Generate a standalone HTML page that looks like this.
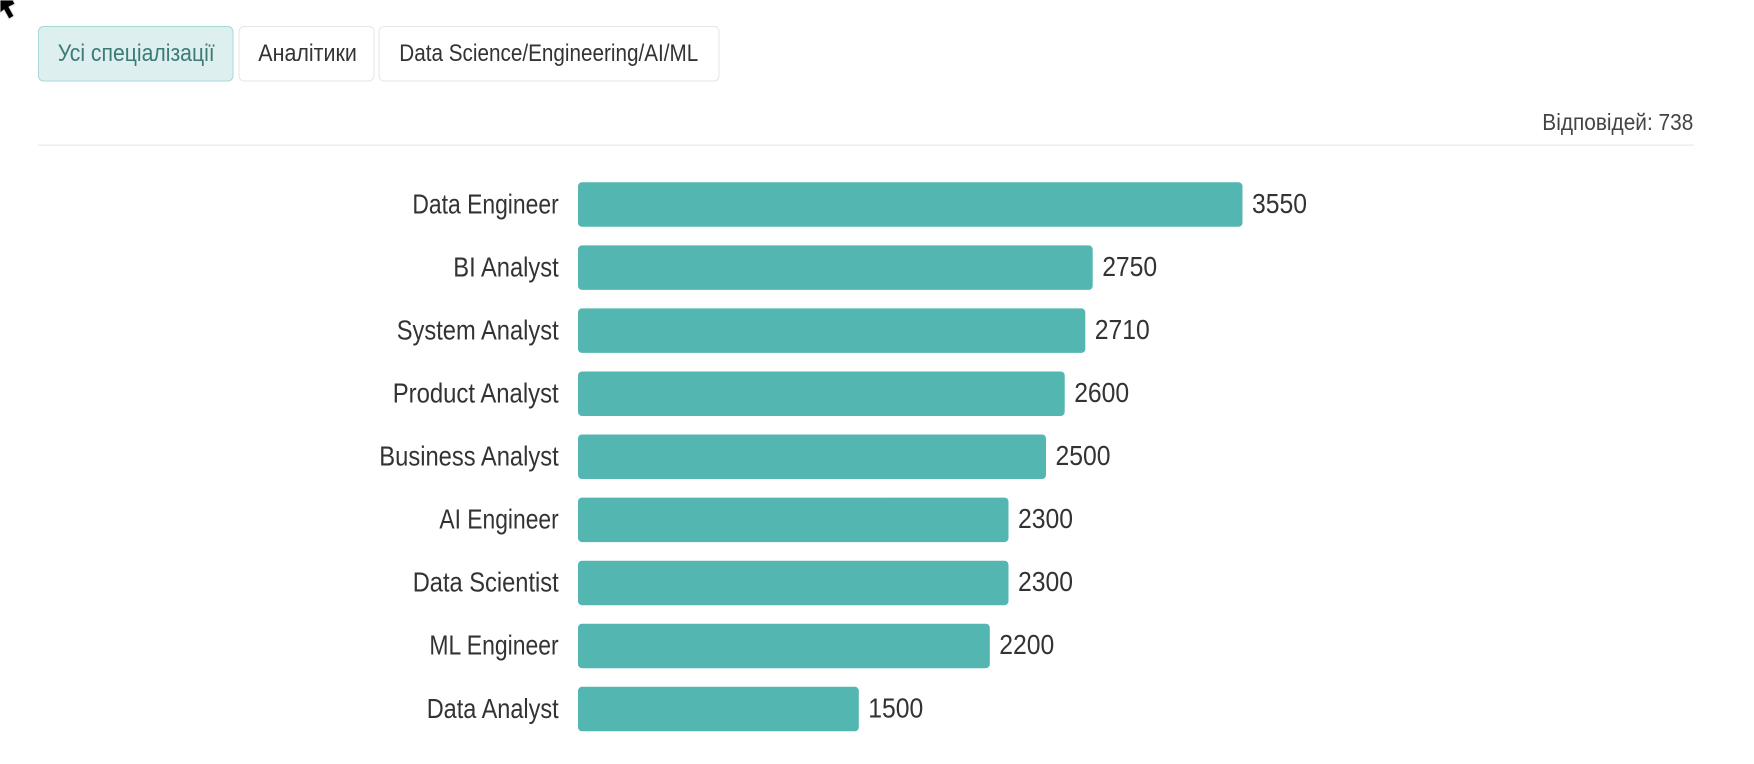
<!DOCTYPE html>
<html>
<head>
<meta charset="utf-8">
<style>
  html,body{margin:0;padding:0;background:#fff;}
  body{width:1754px;height:764px;overflow:hidden;}
  svg{display:block;}
  text{font-family:"Liberation Sans Narrow","Liberation Sans",sans-serif;}
</style>
</head>
<body>
<svg width="1754" height="764" viewBox="0 0 1754 764" xmlns="http://www.w3.org/2000/svg">
  <!-- cursor -->
  <path d="M0,0 L13,0 L15,4 L9,7 L14,16 L9,19 L4,10 L0,13 Z" fill="#000" stroke="#ddd" stroke-width="1"/>

  <!-- tabs -->
  <rect x="38.5" y="26.5" width="194.5" height="54.5" rx="5" fill="#ddefee" stroke="#a9d9d5" stroke-width="1"/>
  <text x="57.7" y="61" font-size="24" fill="#3c7b76" textLength="157" lengthAdjust="spacingAndGlyphs">Усі спеціалізації</text>

  <rect x="239" y="26.5" width="135" height="54.5" rx="5" fill="#fff" stroke="#e6e6e6" stroke-width="1"/>
  <text x="258.3" y="61" font-size="24" fill="#333" textLength="98.5" lengthAdjust="spacingAndGlyphs">Аналітики</text>

  <rect x="379" y="26.5" width="340" height="54.5" rx="5" fill="#fff" stroke="#e6e6e6" stroke-width="1"/>
  <text x="399.3" y="61" font-size="24" fill="#333" textLength="299" lengthAdjust="spacingAndGlyphs">Data Science/Engineering/AI/ML</text>

  <!-- responses -->
  <text x="1542.3" y="130" font-size="23" fill="#444" textLength="151" lengthAdjust="spacingAndGlyphs">Відповідей: 738</text>
  <rect x="38" y="144.5" width="1656" height="1.2" fill="#e8e8e8"/>

  <!-- bars -->
  <g fill="#54b6b1">
    <rect x="578" y="182.3" width="664.5" height="44.5" rx="4"/>
    <rect x="578" y="245.4" width="514.7" height="44.5" rx="4"/>
    <rect x="578" y="308.4" width="507.3" height="44.5" rx="4"/>
    <rect x="578" y="371.5" width="486.7" height="44.5" rx="4"/>
    <rect x="578" y="434.5" width="468.0" height="44.5" rx="4"/>
    <rect x="578" y="497.6" width="430.5" height="44.5" rx="4"/>
    <rect x="578" y="560.7" width="430.5" height="44.5" rx="4"/>
    <rect x="578" y="623.7" width="411.8" height="44.5" rx="4"/>
    <rect x="578" y="686.8" width="280.8" height="44.5" rx="4"/>
  </g>

  <!-- category labels -->
  <g font-size="28" fill="#333">
    <text x="412.4" y="213.3" textLength="146.3" lengthAdjust="spacingAndGlyphs">Data Engineer</text>
    <text x="453.3" y="276.4" textLength="105.4" lengthAdjust="spacingAndGlyphs">BI Analyst</text>
    <text x="396.7" y="339.4" textLength="162" lengthAdjust="spacingAndGlyphs">System Analyst</text>
    <text x="392.7" y="402.5" textLength="166" lengthAdjust="spacingAndGlyphs">Product Analyst</text>
    <text x="379.3" y="465.5" textLength="179.4" lengthAdjust="spacingAndGlyphs">Business Analyst</text>
    <text x="439.4" y="528.6" textLength="119.3" lengthAdjust="spacingAndGlyphs">AI Engineer</text>
    <text x="412.7" y="591.7" textLength="146" lengthAdjust="spacingAndGlyphs">Data Scientist</text>
    <text x="429.4" y="654.7" textLength="129.3" lengthAdjust="spacingAndGlyphs">ML Engineer</text>
    <text x="426.7" y="717.8" textLength="132" lengthAdjust="spacingAndGlyphs">Data Analyst</text>
  </g>

  <!-- value labels -->
  <g font-size="28" fill="#333">
    <text x="1252.0" y="212.8" textLength="55" lengthAdjust="spacingAndGlyphs">3550</text>
    <text x="1102.2" y="275.9" textLength="55" lengthAdjust="spacingAndGlyphs">2750</text>
    <text x="1094.8" y="338.9" textLength="55" lengthAdjust="spacingAndGlyphs">2710</text>
    <text x="1074.2" y="402.0" textLength="55" lengthAdjust="spacingAndGlyphs">2600</text>
    <text x="1055.5" y="465.0" textLength="55" lengthAdjust="spacingAndGlyphs">2500</text>
    <text x="1018.0" y="528.1" textLength="55" lengthAdjust="spacingAndGlyphs">2300</text>
    <text x="1018.0" y="591.2" textLength="55" lengthAdjust="spacingAndGlyphs">2300</text>
    <text x="999.3" y="654.2" textLength="55" lengthAdjust="spacingAndGlyphs">2200</text>
    <text x="868.3" y="717.3" textLength="55" lengthAdjust="spacingAndGlyphs">1500</text>
  </g>
</svg>
</body>
</html>
